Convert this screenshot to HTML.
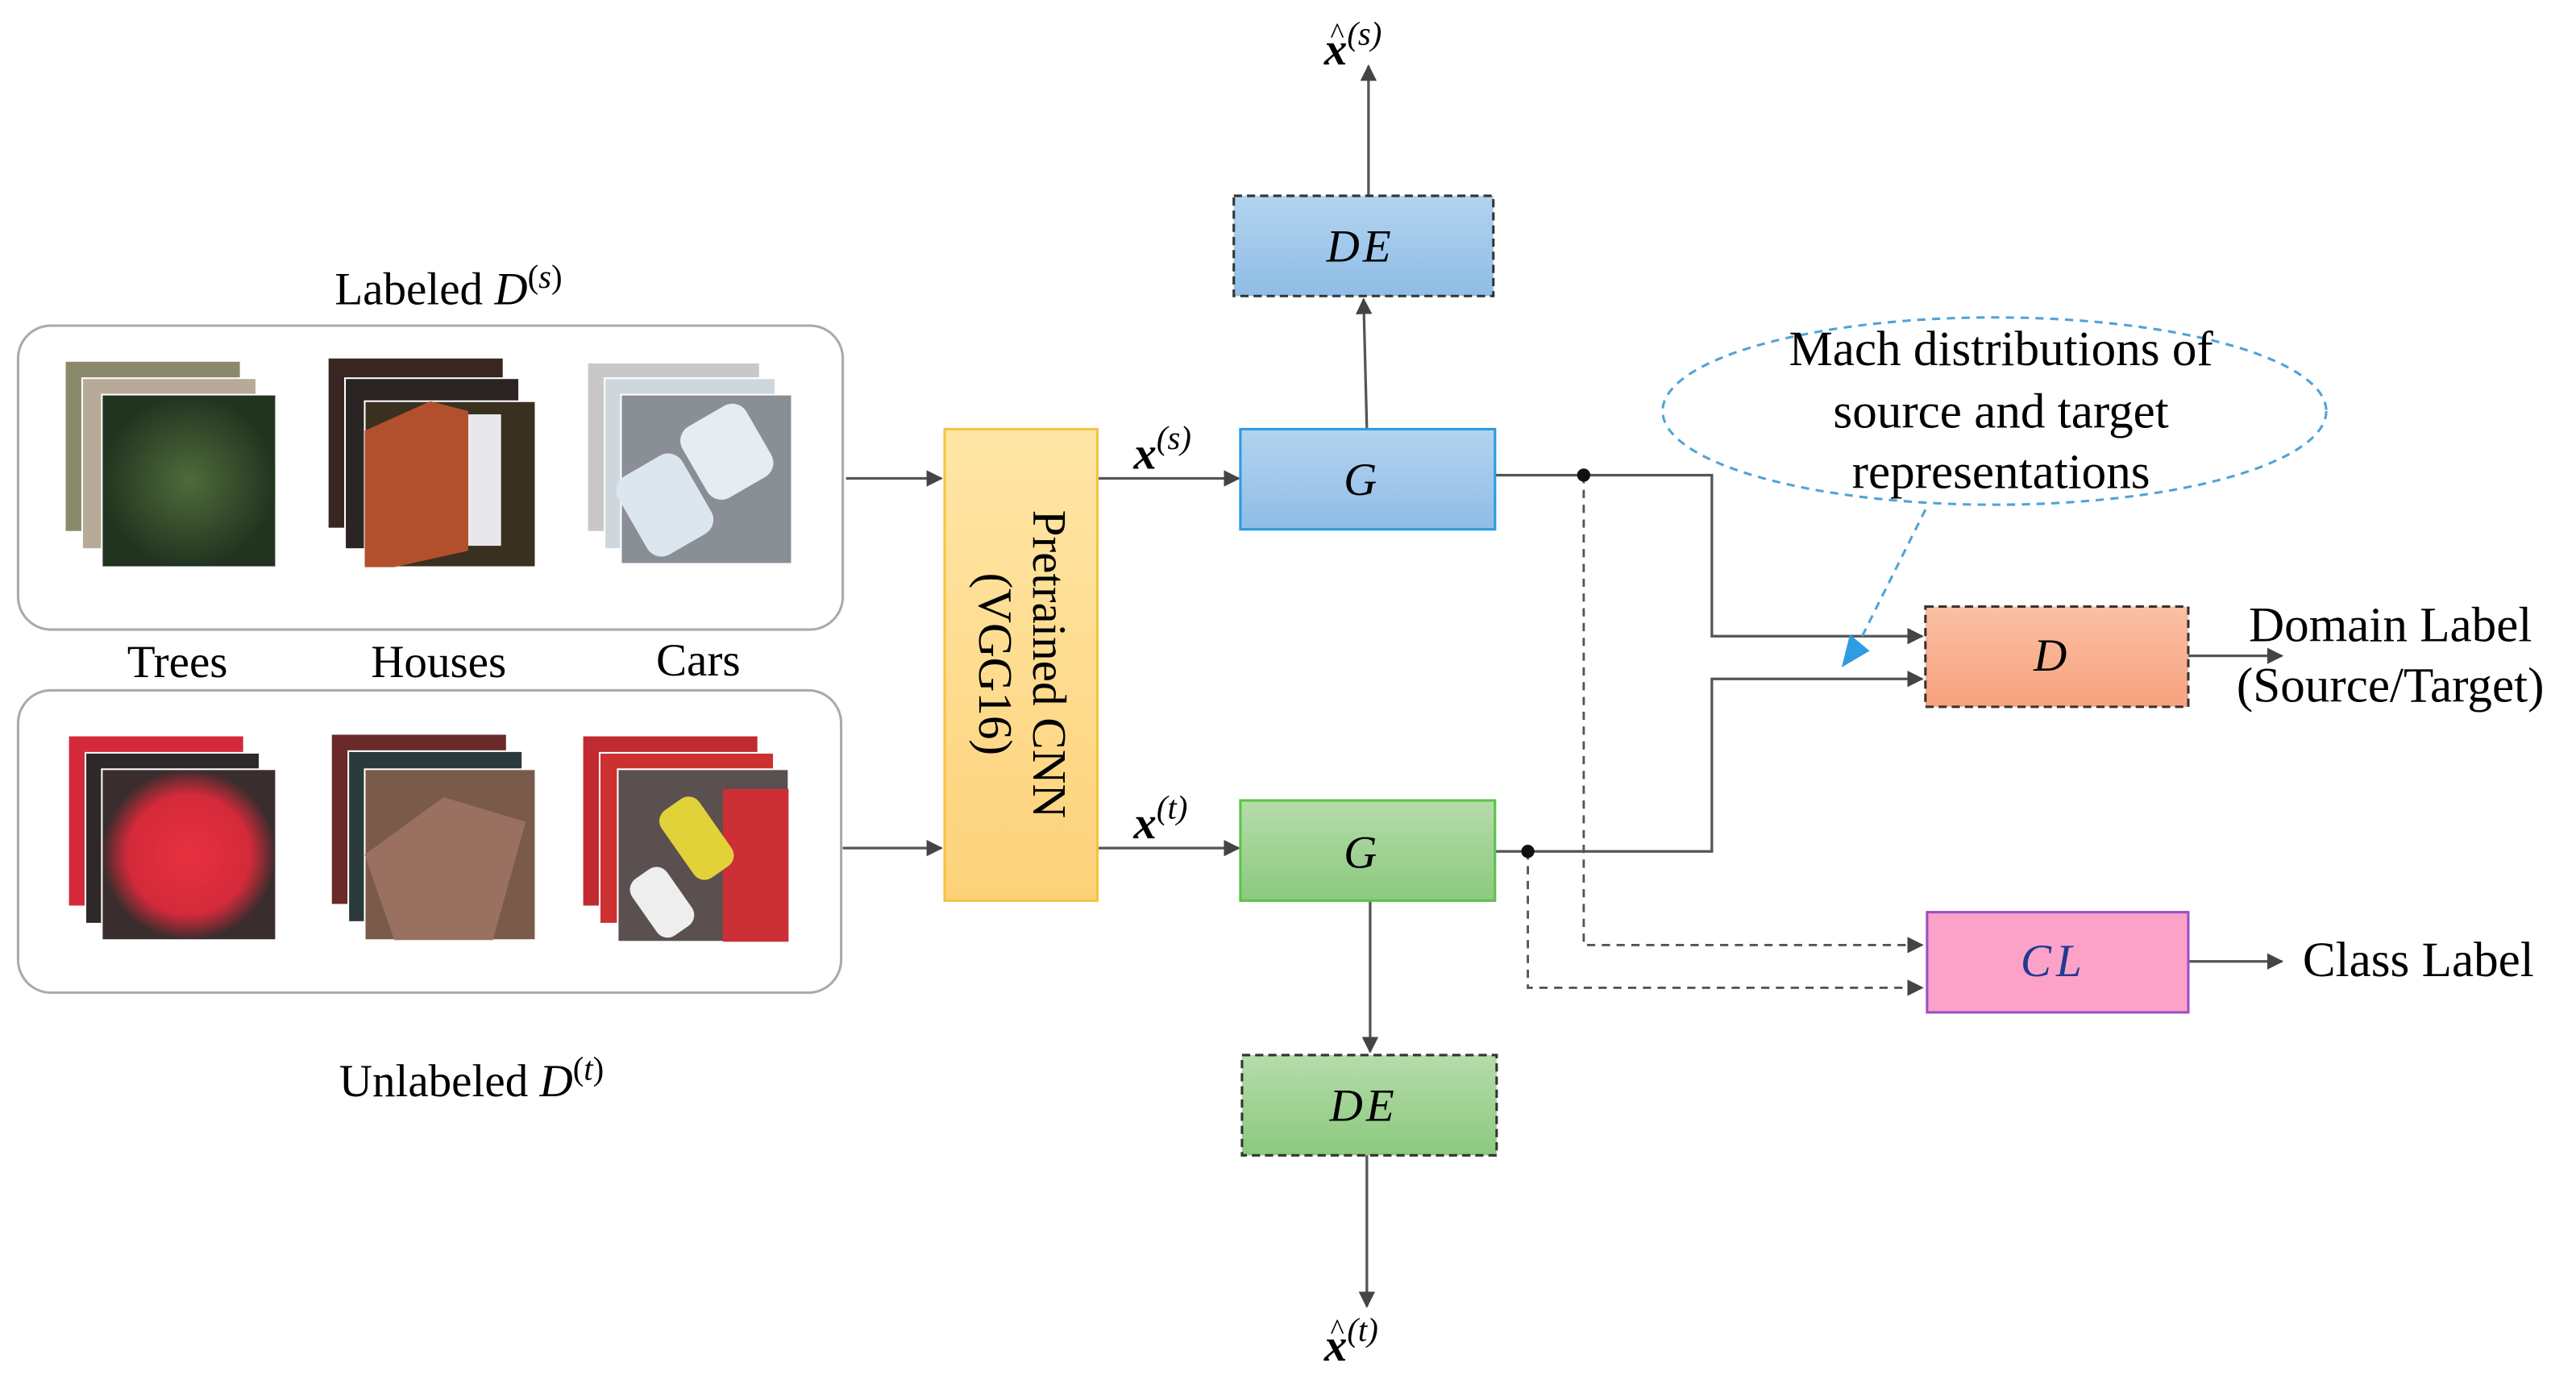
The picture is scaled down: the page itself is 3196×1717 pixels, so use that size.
<!DOCTYPE html>
<html><head><style>html,body{margin:0;padding:0;background:#fff}svg{display:block}</style></head><body>
<svg width="3196" height="1717" viewBox="0 0 1568 842" xmlns="http://www.w3.org/2000/svg" font-family="'Liberation Serif',serif">
<defs>
<marker id="a" markerWidth="10" markerHeight="10" refX="9" refY="5" orient="auto" markerUnits="userSpaceOnUse"><path d="M0,0 L10,5 L0,10 z" fill="#444"/></marker>
<linearGradient id="gb" x1="0" y1="0" x2="0" y2="1"><stop offset="0" stop-color="#b3d3ef"/><stop offset="1" stop-color="#8fbde6"/></linearGradient>
<linearGradient id="gg" x1="0" y1="0" x2="0" y2="1"><stop offset="0" stop-color="#b5dcaa"/><stop offset="1" stop-color="#8cc97e"/></linearGradient>
<linearGradient id="go" x1="0" y1="0" x2="0" y2="1"><stop offset="0" stop-color="#fbc0a4"/><stop offset="1" stop-color="#f7a27e"/></linearGradient>
<linearGradient id="gy" x1="0" y1="0" x2="0" y2="1"><stop offset="0" stop-color="#ffe6a6"/><stop offset="1" stop-color="#fdd27a"/></linearGradient>
<radialGradient id="tree"><stop offset="0" stop-color="#4f6b3a"/><stop offset="1" stop-color="#223420"/></radialGradient>
<radialGradient id="rtree"><stop offset="0" stop-color="#e8303f"/><stop offset="0.7" stop-color="#d42a3a"/><stop offset="1" stop-color="#3a2d2d"/></radialGradient>
</defs>
<rect x="11" y="198" width="502" height="185" rx="20" fill="#fff" stroke="#aaa" stroke-width="1.5"/>
<rect x="11" y="420" width="501" height="184" rx="20" fill="#fff" stroke="#aaa" stroke-width="1.5"/>
<rect x="40" y="220" width="106" height="103" fill="#8a8a6a"/>
<rect x="50" y="230" width="106" height="104" fill="#b8aa98" stroke="#fff"/>
<rect x="62" y="240" width="106" height="105" fill="url(#tree)" stroke="#fff"/>
<rect x="200" y="218" width="106" height="103" fill="#3a2620"/>
<rect x="210" y="230" width="106" height="104" fill="#2a2424" stroke="#fff"/>
<rect x="222" y="244" width="104" height="101" fill="#3a3020" stroke="#fff"/>
<polygon points="222,262 262,244 285,250 285,335 240,345 222,345" fill="#b2502e"/>
<rect x="285" y="252" width="20" height="80" fill="#e8e8ec"/>
<rect x="358" y="221" width="104" height="102" fill="#c8c8c8"/>
<rect x="368" y="230" width="104" height="104" fill="#cfd7de" stroke="#fff"/>
<rect x="378" y="240" width="104" height="103" fill="#8a8f96" stroke="#fff"/>
<rect x="382" y="280" width="45" height="55" rx="10" fill="#dbe6ee" transform="rotate(-30 404 307)"/>
<rect x="420" y="250" width="45" height="50" rx="10" fill="#e6edf2" transform="rotate(-30 442 275)"/>
<rect x="42" y="448" width="106" height="103" fill="#d42a3a"/>
<rect x="52" y="458" width="106" height="104" fill="#2e2828" stroke="#fff"/>
<rect x="62" y="468" width="106" height="104" fill="url(#rtree)" stroke="#fff"/>
<rect x="202" y="447" width="106" height="103" fill="#6a2a2a"/>
<rect x="212" y="457" width="106" height="104" fill="#2a3a3a" stroke="#fff"/>
<rect x="222" y="468" width="104" height="104" fill="#7a5a4a" stroke="#fff"/>
<polygon points="222,520 270,485 320,500 300,572 240,572" fill="#9a7060"/>
<rect x="355" y="448" width="106" height="103" fill="#c02a30"/>
<rect x="365" y="458" width="106" height="104" fill="#cc3030" stroke="#fff"/>
<rect x="376" y="468" width="104" height="105" fill="#5a5050" stroke="#fff"/>
<rect x="440" y="480" width="40" height="93" fill="#cc2f35"/>
<rect x="410" y="485" width="28" height="50" rx="8" fill="#e2d23a" transform="rotate(-35 424 510)"/>
<rect x="390" y="528" width="26" height="42" rx="8" fill="#eeeeee" transform="rotate(-35 403 549)"/>
<text x="273" y="185" font-size="28" text-anchor="middle">Labeled <tspan font-style="italic">D</tspan><tspan font-size="20" dy="-10">(<tspan font-style="italic">s</tspan>)</tspan></text>
<text x="108" y="412" font-size="28" text-anchor="middle">Trees</text>
<text x="267" y="412" font-size="28" text-anchor="middle">Houses</text>
<text x="425" y="411" font-size="28" text-anchor="middle">Cars</text>
<text x="287" y="667" font-size="28" text-anchor="middle">Unlabeled <tspan font-style="italic">D</tspan><tspan font-size="20" dy="-10">(<tspan font-style="italic">t</tspan>)</tspan></text>
<g stroke="#555" stroke-width="1.6" fill="none">
<line x1="515" y1="291" x2="573" y2="291" marker-end="url(#a)"/>
<line x1="513" y1="516" x2="573" y2="516" marker-end="url(#a)"/>
<line x1="668" y1="291" x2="754" y2="291" marker-end="url(#a)"/>
<line x1="668" y1="516" x2="754" y2="516" marker-end="url(#a)"/>
<line x1="832" y1="261" x2="830" y2="182" marker-end="url(#a)"/>
<line x1="833" y1="119" x2="833" y2="40" marker-end="url(#a)"/>
<line x1="834" y1="548" x2="834" y2="640" marker-end="url(#a)"/>
<line x1="832" y1="703" x2="832" y2="795" marker-end="url(#a)"/>
<polyline points="910,289 1042,289 1042,387 1170,387" marker-end="url(#a)"/>
<polyline points="910,518 1042,518 1042,413 1170,413" marker-end="url(#a)"/>
<line x1="1332" y1="399" x2="1389" y2="399" marker-end="url(#a)"/>
<line x1="1332" y1="585" x2="1389" y2="585" marker-end="url(#a)"/>
</g>
<g stroke="#555" stroke-width="1.4" fill="none" stroke-dasharray="5,4">
<polyline points="964,289 964,575 1170,575" marker-end="url(#a)"/>
<polyline points="930,518 930,601 1170,601" marker-end="url(#a)"/>
</g>
<circle cx="964" cy="289" r="4" fill="#111"/>
<circle cx="930" cy="518" r="4" fill="#111"/>
<rect x="575" y="261" width="93" height="287" fill="url(#gy)" stroke="#f6c342" stroke-width="1.5"/>
<text transform="translate(629 404) rotate(90)" font-size="29" text-anchor="middle">Pretrained CNN</text>
<text transform="translate(596 404) rotate(90)" font-size="29" text-anchor="middle">(VGG16)</text>
<text x="690" y="285" font-size="28" font-weight="bold" font-style="italic">x<tspan font-size="20" font-weight="normal" dy="-12">(s)</tspan></text>
<text x="690" y="510" font-size="28" font-weight="bold" font-style="italic">x<tspan font-size="20" font-weight="normal" dy="-12">(t)</tspan></text>
<rect x="755" y="261" width="155" height="61" fill="url(#gb)" stroke="#2b9be0" stroke-width="1.5"/>
<text x="828" y="301" font-size="28" font-style="italic" text-anchor="middle">G</text>
<rect x="755" y="487" width="155" height="61" fill="url(#gg)" stroke="#5cc14b" stroke-width="1.5"/>
<text x="828" y="528" font-size="28" font-style="italic" text-anchor="middle">G</text>
<rect x="751" y="119" width="158" height="61" fill="url(#gb)" stroke="#333" stroke-width="1.5" stroke-dasharray="5,3"/>
<text x="828" y="159" font-size="28" font-style="italic" text-anchor="middle" letter-spacing="2">DE</text>
<rect x="756" y="642" width="155" height="61" fill="url(#gg)" stroke="#333" stroke-width="1.5" stroke-dasharray="5,3"/>
<text x="830" y="682" font-size="28" font-style="italic" text-anchor="middle" letter-spacing="2">DE</text>
<text x="806" y="39" font-size="28" font-weight="bold" font-style="italic">x<tspan font-size="20" font-weight="normal" dy="-12">(s)</tspan></text>
<text x="814" y="26" font-size="18" text-anchor="middle">^</text>
<text x="806" y="828" font-size="28" font-weight="bold" font-style="italic">x<tspan font-size="20" font-weight="normal" dy="-12">(t)</tspan></text>
<text x="814" y="815" font-size="18" text-anchor="middle">^</text>
<rect x="1172" y="369" width="160" height="61" fill="url(#go)" stroke="#333" stroke-width="1.5" stroke-dasharray="5,3"/>
<text x="1248" y="408" font-size="28" font-style="italic" text-anchor="middle">D</text>
<rect x="1173" y="555" width="159" height="61" fill="#fca2c8" stroke="#9b4fc4" stroke-width="1.5"/>
<text x="1250" y="594" font-size="28" font-style="italic" fill="#1f3a93" text-anchor="middle" letter-spacing="3">CL</text>
<text x="1455" y="390" font-size="30" text-anchor="middle">Domain Label</text>
<text x="1455" y="427" font-size="30" text-anchor="middle">(Source/Target)</text>
<text x="1472" y="594" font-size="30" text-anchor="middle">Class Label</text>
<ellipse cx="1214" cy="250" rx="202" ry="57" fill="none" stroke="#4fa3d6" stroke-width="1.5" stroke-dasharray="5,4"/>
<text x="1218" y="222" font-size="30" text-anchor="middle">Mach distributions of</text>
<text x="1218" y="260" font-size="30" text-anchor="middle">source and target</text>
<text x="1218" y="297" font-size="30" text-anchor="middle">representations</text>
<line x1="1172" y1="310" x2="1132" y2="390" stroke="#4fa3d6" stroke-width="1.5" stroke-dasharray="5,4"/>
<polygon points="1121,406 1126,386 1138,396" fill="#2e9ce0"/>
</svg>
</body></html>
